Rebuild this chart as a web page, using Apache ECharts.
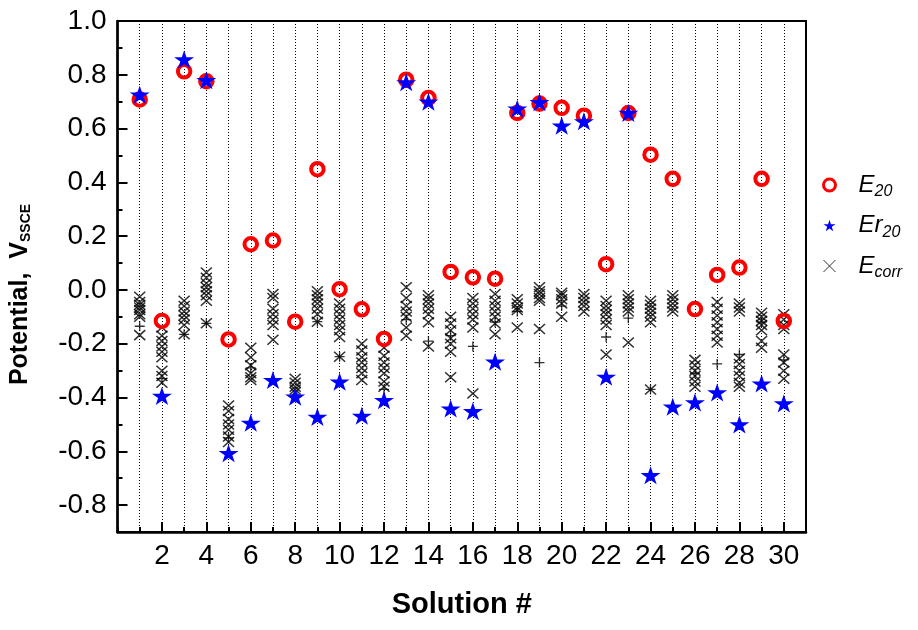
<!DOCTYPE html>
<html>
<head>
<meta charset="utf-8">
<script src="https://cdn.jsdelivr.net/npm/echarts@6/dist/echarts.min.js"></script>
<style>html,body{margin:0;padding:0;background:#fff}#c{width:918px;height:630px}</style>
</head>
<body>
<div id="c"></div>
<script>
// Solution numbers 1..30
const solutions = Array.from({length: 30}, (_, i) => i + 1);
const xTickLabels = [2,4,6,8,10,12,14,16,18,20,22,24,26,28,30];
const yTickLabels = [-0.8,-0.6,-0.4,-0.2,0.0,0.2,0.4,0.6,0.8,1.0];

// E20 (red circles)
const e20 = [0.708,-0.115,0.813,0.776,-0.184,0.170,0.184,-0.118,0.449,0.003,
             -0.072,-0.182,0.782,0.714,0.067,0.047,0.042,0.658,0.693,0.677,
             0.648,0.096,0.658,0.503,0.413,-0.071,0.056,0.083,0.413,-0.115];
// Er20 (blue stars)
const er20 = [0.726,-0.394,0.857,0.780,-0.607,-0.494,-0.335,-0.397,-0.472,-0.341,
              -0.468,-0.410,0.772,0.700,-0.441,-0.451,-0.267,0.674,0.698,0.611,
              0.627,-0.323,0.658,-0.689,-0.434,-0.418,-0.381,-0.500,-0.348,-0.422];
// Ecorr (x markers), several readings per solution
const ecorr = [
  [-0.025,-0.045,-0.055,-0.065,-0.075,-0.09,-0.10,-0.168],
  [-0.14,-0.17,-0.19,-0.21,-0.23,-0.25,-0.30,-0.32,-0.345],
  [-0.04,-0.06,-0.08,-0.095,-0.11,-0.13,-0.165],
  [0.065,0.045,0.025,0.01,-0.005,-0.02,-0.04,-0.124],
  [-0.43,-0.45,-0.48,-0.50,-0.52,-0.545,-0.565],
  [-0.215,-0.25,-0.28,-0.31,-0.325,-0.335],
  [-0.015,-0.03,-0.07,-0.09,-0.11,-0.13,-0.185],
  [-0.33,-0.345,-0.36,-0.37,-0.38],
  [-0.005,-0.02,-0.035,-0.05,-0.07,-0.09,-0.118],
  [-0.05,-0.07,-0.09,-0.11,-0.13,-0.15,-0.175,-0.248],
  [-0.20,-0.225,-0.25,-0.27,-0.29,-0.31,-0.335],
  [-0.215,-0.245,-0.27,-0.29,-0.31,-0.34,-0.36],
  [0.01,-0.03,-0.06,-0.08,-0.10,-0.14,-0.17],
  [-0.02,-0.035,-0.05,-0.07,-0.09,-0.12,-0.21],
  [-0.10,-0.125,-0.15,-0.18,-0.20,-0.23,-0.325],
  [-0.03,-0.05,-0.07,-0.09,-0.11,-0.14,-0.385],
  [-0.015,-0.04,-0.06,-0.08,-0.10,-0.125,-0.165],
  [-0.035,-0.05,-0.065,-0.075,-0.14],
  [0.01,-0.005,-0.015,-0.03,-0.04,-0.145],
  [-0.01,-0.02,-0.035,-0.05,-0.10],
  [-0.015,-0.03,-0.045,-0.06,-0.08],
  [-0.04,-0.06,-0.075,-0.09,-0.11,-0.13,-0.24],
  [-0.02,-0.035,-0.05,-0.065,-0.08,-0.195],
  [-0.04,-0.055,-0.07,-0.085,-0.10,-0.12,-0.37],
  [-0.02,-0.035,-0.05,-0.065,-0.08],
  [-0.26,-0.28,-0.30,-0.32,-0.34,-0.36],
  [-0.045,-0.07,-0.095,-0.12,-0.145,-0.17,-0.195],
  [-0.05,-0.065,-0.08,-0.255,-0.275,-0.30,-0.32,-0.345,-0.36],
  [-0.085,-0.10,-0.115,-0.13,-0.15,-0.19,-0.215],
  [-0.09,-0.11,-0.13,-0.145,-0.24,-0.27,-0.30,-0.33]
];
// extra "+" readings mixed with Ecorr
const ecorrPlus = [
  [-0.135],[-0.33],[-0.165],[-0.124],[-0.55],[-0.29],[],[],[-0.118],[-0.248],
  [],[-0.37],[-0.11],[-0.19],[-0.17],[-0.21],[-0.12],[-0.08],[-0.27],[-0.06],
  [],[-0.175],[-0.105],[-0.37],[],[-0.31],[-0.275],[-0.24],[-0.12],[-0.26]
];

const starPath = 'path://M50,0L61.23,34.55L97.55,34.55L68.17,55.9L79.39,90.45L50,69.1L20.61,90.45L31.83,55.9L2.45,34.55L38.77,34.55Z';
const crossPath = 'path://M0,0L10,10M10,0L0,10';
const plusPath = 'path://M5,0L5,10M0,5L10,5';

const e20Data = solutions.map((s, i) => [s, e20[i]]);
const er20Data = solutions.map((s, i) => [s, er20[i]]);
const ecorrData = [];
ecorr.forEach((arr, i) => arr.forEach(v => ecorrData.push([solutions[i], v])));
const plusData = [];
ecorrPlus.forEach((arr, i) => arr.forEach(v => plusData.push([solutions[i], v])));

const FONT = 'Liberation Sans, Arial, sans-serif';
const chart = echarts.init(document.getElementById('c'), null, {renderer: 'canvas'});
chart.setOption({
  animation: false,
  backgroundColor: '#fff',
  grid: {left: 116, right: 112, top: 21, bottom: 98, show: true, borderColor: '#000', borderWidth: 2, backgroundColor: 'rgba(0,0,0,0)'},
  xAxis: [{
    type: 'value', min: 0, max: 31, interval: 1, position: 'bottom',
    axisLine: {show: true, onZero: false, lineStyle: {color: '#000', width: 2.5}},
    axisTick: {show: true, inside: true, length: 5, lineStyle: {color: '#000', width: 2}},
    axisLabel: {show: false},
    splitLine: {show: true, lineStyle: {color: '#000', width: 1, type: [1, 2]}}
  }, {
    type: 'value', min: 0, max: 31, position: 'bottom',
    axisLine: {show: false, onZero: false},
    axisTick: {show: true, inside: true, length: 10, customValues: xTickLabels, lineStyle: {color: '#000', width: 2}},
    axisLabel: {show: true, customValues: xTickLabels, fontSize: 28, color: '#000', fontFamily: FONT, margin: 10},
    splitLine: {show: false},
    name: 'Solution #', nameLocation: 'middle', nameGap: 58,
    nameTextStyle: {fontSize: 29, fontWeight: 'bold', color: '#000', fontFamily: FONT}
  }],
  yAxis: [{
    type: 'value', min: -0.9, max: 1.0, interval: 0.1, position: 'left',
    axisLine: {show: true, onZero: false, lineStyle: {color: '#000', width: 2.5}},
    axisTick: {show: true, inside: true, length: 5, lineStyle: {color: '#000', width: 2}},
    axisLabel: {show: false},
    splitLine: {show: false}
  }, {
    type: 'value', min: -0.9, max: 1.0, position: 'left',
    axisLine: {show: false, onZero: false},
    axisTick: {show: true, inside: true, length: 10, customValues: yTickLabels, lineStyle: {color: '#000', width: 2}},
    axisLabel: {show: true, customValues: yTickLabels, fontSize: 28, color: '#000', fontFamily: FONT, margin: 11,
      formatter: v => Number(v).toFixed(1)},
    splitLine: {show: false},
    name: '{b|Potential,  V}{s|SSCE}', nameLocation: 'middle', nameGap: 84, nameRotate: 90,
    nameTextStyle: {color: '#000', fontFamily: FONT, padding: [0, 36, 0, 0],
      rich: {b: {fontSize: 25, fontWeight: 'bold', fontFamily: FONT, color: '#000'},
             s: {fontSize: 14, fontWeight: 'bold', fontFamily: FONT, color: '#000', padding: [12, 0, 0, 0]}}}
  }],
  legend: {
    orient: 'vertical', left: 817, top: 168, itemWidth: 12, itemHeight: 12, itemGap: 13.5,
    selectedMode: false,
    data: [
      {name: 'E20', icon: 'circle', itemStyle: {color: 'rgba(0,0,0,0)', borderColor: '#ff0000', borderWidth: 3}},
      {name: 'Er20', icon: starPath, itemStyle: {color: '#0000ff', borderWidth: 0}},
      {name: 'Ecorr', icon: crossPath, itemStyle: {color: 'rgba(0,0,0,0)', borderColor: '#000', borderWidth: 1}}
    ],
    formatter: n => {
      if (n === 'E20') return '{i|E}{s|20}';
      if (n === 'Er20') return '{i|Er}{s|20}';
      return '{i|E}{s|corr}';
    },
    textStyle: {
      rich: {
        i: {fontSize: 24, fontStyle: 'italic', fontFamily: FONT, color: '#000', padding: [0, 0, 0, 18]},
        s: {fontSize: 16, fontStyle: 'italic', fontFamily: FONT, color: '#000', padding: [14, 0, 0, 0]}
      }
    }
  },
  series: [{
    name: 'Ecorr', type: 'scatter', data: ecorrData, symbol: crossPath, symbolSize: [11, 10],
    itemStyle: {color: 'rgba(0,0,0,0)', borderColor: '#000', borderWidth: 1.5}, silent: true, z: 2
  }, {
    name: 'plus', type: 'scatter', data: plusData, symbol: plusPath, symbolSize: [10, 10],
    itemStyle: {color: 'rgba(0,0,0,0)', borderColor: '#000', borderWidth: 1.3}, silent: true, z: 2
  }, {
    name: 'E20', type: 'scatter', data: e20Data, symbol: 'circle', symbolSize: 12.5,
    itemStyle: {color: 'rgba(0,0,0,0)', borderColor: '#ff0000', borderWidth: 4, opacity: 1}, silent: true, z: 3
  }, {
    name: 'Er20', type: 'scatter', data: er20Data, symbol: starPath, symbolSize: [20, 19], symbolKeepAspect: true,
    itemStyle: {color: '#0000ff', opacity: 1}, silent: true, z: 4
  }]
});
</script>
</body>
</html>
